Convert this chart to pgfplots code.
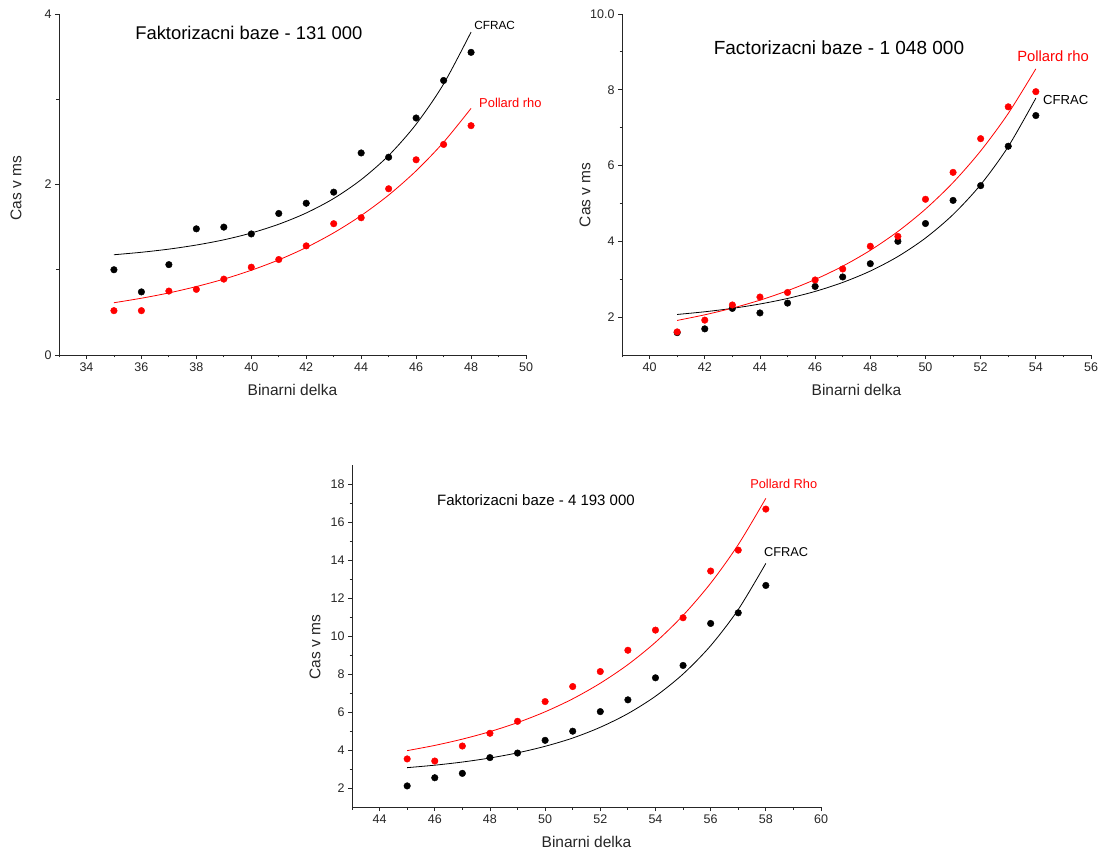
\documentclass[border=0pt]{standalone}
\usepackage{fontspec}
\setmainfont{Liberation Sans}
\usepackage{pgfplots}
\pgfplotsset{compat=1.18}
\newcommand\fs[1]{\fontsize{#1}{#1}\selectfont}
\pgfplotsset{
  myax/.style={
    scale only axis,
    axis x line*=bottom, axis y line*=left,
    axis line style={line width=0.9pt, black!85},
    tick align=outside,
    major tick length=4pt, minor tick length=2.5pt,
    every tick/.style={black!85, line width=0.8pt},
    xtick distance=2, minor x tick num=1, minor y tick num=1,
    ticklabel style={font=\fs{12.5}, text=black!85},
    /pgf/number format/assume math mode=true,
    clip=false,
    xlabel={Binarni delka}, ylabel={Cas v ms},
    every axis x label/.style={at={(axis description cs:0.5,0)}, anchor=center, yshift=-35pt, font=\fs{15.5}, text=black!85},
    curve/.style={smooth, line width=0.8pt, no marks},
    pts/.style={only marks, mark=*, mark size=3.3pt},
  }
}
\begin{document}
\begin{tikzpicture}
\path (0pt,0pt) rectangle (1102pt,852pt);
% ---------------- plot 1
\begin{axis}[myax, at={(59pt,497pt)}, anchor=south west, width=467pt, height=341pt,
  xmin=33, xmax=50, ymin=0, ymax=4, ytick={0,2,4},
  every axis y label/.style={at={(axis description cs:-0.092,0.49)}, anchor=center, rotate=90, font=\fs{15.5}, text=black!85}]
\addplot[curve, black] coordinates {(35,1.176)(36,1.205)(37,1.242)(38,1.290)(39,1.351)(40,1.431)(41,1.534)(42,1.666)(43,1.836)(44,2.057)(45,2.340)(46,2.707)(47,3.179)(48,3.788)};
\addplot[curve, red] coordinates {(35,0.613)(36,0.666)(37,0.728)(38,0.803)(39,0.890)(40,0.994)(41,1.116)(42,1.261)(43,1.433)(44,1.636)(45,1.876)(46,2.160)(47,2.496)(48,2.893)};
\addplot[pts, black] coordinates {(35,1.00)(36,0.74)(37,1.06)(38,1.48)(39,1.50)(40,1.42)(41,1.66)(42,1.78)(43,1.91)(44,2.37)(45,2.32)(46,2.78)(47,3.22)(48,3.55)};
\addplot[pts, red] coordinates {(35,0.52)(36,0.52)(37,0.75)(38,0.77)(39,0.89)(40,1.03)(41,1.12)(42,1.28)(43,1.54)(44,1.61)(45,1.95)(46,2.29)(47,2.47)(48,2.69)};
\node[anchor=west, inner sep=0pt, font=\fs{18.4}] at (axis cs:35.77,3.777) {Faktorizacni baze - 131 000};
\node[anchor=west, inner sep=0pt, font=\fs{11.8}] at (axis cs:48.11,3.871) {CFRAC};
\node[anchor=west, inner sep=0pt, font=\fs{12.9}, text=red] at (axis cs:48.29,2.956) {Pollard rho};
\end{axis}
% ---------------- plot 2
\begin{axis}[myax, at={(622pt,497pt)}, anchor=south west, width=469pt, height=341pt,
  xmin=39, xmax=56, ymin=1, ymax=10, ytick={2,4,6,8,10},
  yticklabels={2,4,6,8,10.0},
  every axis y label/.style={at={(axis description cs:-0.079,0.47)}, anchor=center, rotate=90, font=\fs{15.5}, text=black!85}]
\addplot[curve, black] coordinates {(41,2.070)(42,2.141)(43,2.231)(44,2.346)(45,2.492)(46,2.678)(47,2.915)(48,3.216)(49,3.599)(50,4.087)(51,4.707)(52,5.496)(53,6.501)(54,7.779)};
\addplot[curve, red] coordinates {(41,1.912)(42,2.061)(43,2.237)(44,2.447)(45,2.697)(46,2.993)(47,3.345)(48,3.763)(49,4.260)(50,4.851)(51,5.552)(52,6.386)(53,7.376)(54,8.553)};
\addplot[pts, black] coordinates {(41,1.59)(42,1.69)(43,2.23)(44,2.11)(45,2.37)(46,2.81)(47,3.06)(48,3.41)(49,4.00)(50,4.47)(51,5.08)(52,5.47)(53,6.51)(54,7.32)};
\addplot[pts, red] coordinates {(41,1.61)(42,1.92)(43,2.32)(44,2.53)(45,2.65)(46,2.98)(47,3.27)(48,3.87)(49,4.13)(50,5.11)(51,5.82)(52,6.71)(53,7.55)(54,7.95)};
\node[anchor=west, inner sep=0pt, font=\fs{19}] at (axis cs:42.32,9.10) {Factorizacni baze - 1 048 000};
\node[anchor=west, inner sep=0pt, font=\fs{14.8}, text=red] at (axis cs:53.32,8.89) {Pollard rho};
\node[anchor=west, inner sep=0pt, font=\fs{13.1}] at (axis cs:54.26,7.73) {CFRAC};
\end{axis}
% ---------------- plot 3
\begin{axis}[myax, at={(352pt,45pt)}, anchor=south west, width=469pt, height=342pt,
  xmin=43, xmax=60, ymin=1, ymax=19, ytick={2,4,...,18},
  every axis y label/.style={at={(axis description cs:-0.079,0.468)}, anchor=center, rotate=90, font=\fs{15.5}, text=black!85}]
\addplot[curve, black] coordinates {(45,3.071)(46,3.201)(47,3.367)(48,3.579)(49,3.850)(50,4.195)(51,4.630)(52,5.197)(53,5.915)(54,6.830)(55,7.999)(56,9.490)(57,11.394)(58,13.820)};
\addplot[curve, red] coordinates {(45,3.967)(46,4.242)(47,4.572)(48,4.967)(49,5.442)(50,6.011)(51,6.693)(52,7.515)(53,8.494)(54,9.671)(55,11.084)(56,12.778)(57,14.809)(58,17.245)};
\addplot[pts, red] coordinates {(45,3.53)(46,3.42)(47,4.21)(48,4.88)(49,5.51)(50,6.55)(51,7.34)(52,8.13)(53,9.25)(54,10.31)(55,10.96)(56,13.42)(57,14.52)(58,16.68)};
\addplot[pts, black] coordinates {(45,2.11)(46,2.54)(47,2.77)(48,3.60)(49,3.84)(50,4.51)(51,4.99)(52,6.02)(53,6.64)(54,7.80)(55,8.45)(56,10.66)(57,11.22)(58,12.66)};
\node[anchor=west, inner sep=0pt, font=\fs{15}] at (axis cs:46.08,17.16) {Faktorizacni baze - 4 193 000};
\node[anchor=west, inner sep=0pt, font=\fs{12.8}, text=red] at (axis cs:57.43,18.0) {Pollard Rho};
\node[anchor=west, inner sep=0pt, font=\fs{12.8}] at (axis cs:57.93,14.42) {CFRAC};
\end{axis}
\end{tikzpicture}
\end{document}
